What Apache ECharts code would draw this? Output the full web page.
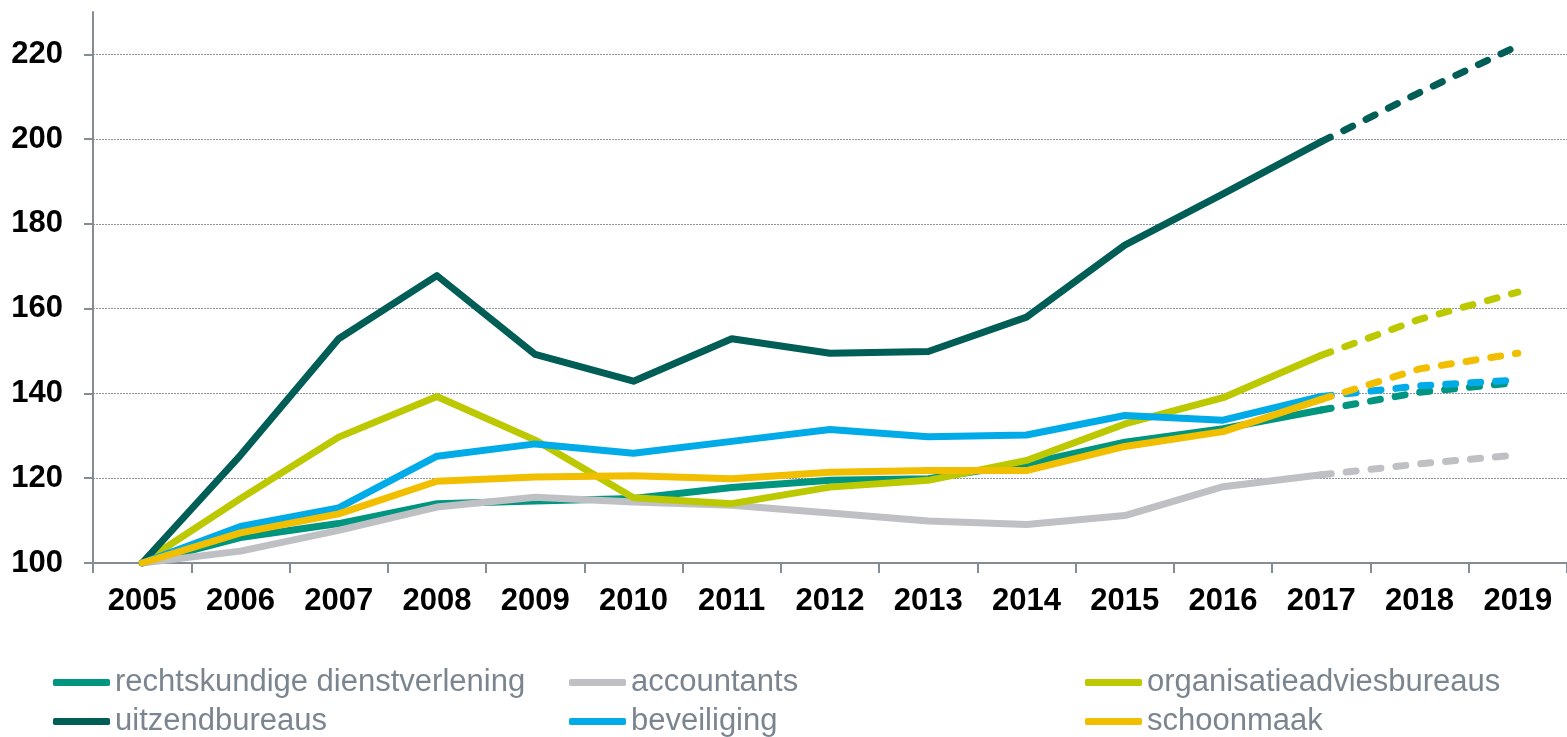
<!DOCTYPE html>
<html>
<head>
<meta charset="utf-8">
<script src="https://cdn.jsdelivr.net/npm/echarts@6/dist/echarts.min.js"></script>
<style>
  html, body { margin: 0; padding: 0; background: #fff; }
  #chart { width: 1567px; height: 737px; }
</style>
</head>
<body>
<div id="chart"></div>
<script>
const years = ['2005', '2006', '2007', '2008', '2009', '2010', '2011', '2012', '2013', '2014', '2015', '2016', '2017', '2018', '2019'];
const yTicks = [100, 120, 140, 160, 180, 200, 220];

// realised 2005-2017
const rechtskundig = [100, 106, 109.3, 114, 114.6, 115.2, 117.8, 119.5, 119.9, 123.4, 128.5, 131.7, 136.1];
const accountants = [100, 102.8, 107.7, 113.2, 115.5, 114.4, 113.6, 111.8, 109.9, 109.1, 111.2, 118, 120.8];
const organisatie = [100, 115.2, 129.7, 139.3, 129, 115.4, 114, 117.9, 119.5, 124.2, 132.8, 139, 149];
const uitzend = [100, 125.4, 152.9, 167.8, 149.2, 142.9, 152.9, 149.5, 149.9, 158, 175, 187.1, 199.4];
const beveiliging = [100, 108.6, 113, 125.2, 128.1, 125.9, 128.7, 131.5, 129.8, 130.2, 134.8, 133.7, 139.3];
const schoonmaak = [100, 107.1, 111.6, 119.3, 120.3, 120.6, 119.9, 121.4, 121.8, 121.8, 127.5, 131, 138.6];

// forecast 2017-2019
const rechtskundigProg = [136.1, 140.3, 142.6];
const accountantsProg = [120.8, 123.4, 125.5];
const organisatieProg = [149, 157.5, 163.9];
const uitzendProg = [199.4, 211, 222];
const beveiligingProg = [139.3, 141.8, 143.2];
const schoonmaakProg = [138.6, 145.8, 149.5];

const names = ['rechtskundige dienstverlening', 'accountants', 'organisatieadviesbureaus', 'uitzendbureaus', 'beveiliging', 'schoonmaak'];
const colors = ['#00957f', '#bec0c4', '#bcc800', '#005e56', '#00abe8', '#f2bf00'];
const solid = [rechtskundig, accountants, organisatie, uitzend, beveiliging, schoonmaak];
const prog = [rechtskundigProg, accountantsProg, organisatieProg, uitzendProg, beveiligingProg, schoonmaakProg];

const gray = '#848d96';
const labelFont = 'Liberation Sans, Arial, sans-serif';

const series = [];
names.forEach((name, i) => {
  series.push({
    name: name,
    type: 'line',
    data: solid[i],
    symbol: 'none',
    color: colors[i],
    lineStyle: { width: 7, color: colors[i], cap: 'round', join: 'round' },
    z: 2 + i,
  });
});
names.forEach((name, i) => {
  const pad = new Array(years.length - prog[i].length).fill(null);
  series.push({
    name: name,
    type: 'line',
    data: pad.concat(prog[i]),
    symbol: 'none',
    color: colors[i],
    lineStyle: { width: 7, color: colors[i], type: [10, 15], cap: 'round' },
    z: 2 + i,
  });
});

function legendCol(left, items) {
  return {
    orient: 'vertical',
    left: left,
    top: 667,
    data: items,
    icon: 'roundRect',
    itemWidth: 57,
    itemHeight: 7,
    itemGap: 8,
    padding: 0,
    selectedMode: false,
    textStyle: { fontFamily: labelFont, fontSize: 31, lineHeight: 31, color: '#7b8590', padding: [0, 0, 0, 0] },
  };
}

const chart = echarts.init(document.getElementById('chart'), null, { renderer: 'canvas' });
chart.setOption({
  animation: false,
  backgroundColor: '#fff',
  grid: { left: 93, top: 12, width: 1486, height: 551, containLabel: false },
  legend: [
    legendCol(53, [names[0], names[3]]),
    legendCol(569, [names[1], names[4]]),
    legendCol(1085, [names[2], names[5]]),
  ],
  xAxis: {
    type: 'category',
    data: years,
    boundaryGap: true,
    axisLine: { lineStyle: { color: gray, width: 2 } },
    axisTick: { show: true, length: 10, lineStyle: { color: gray, width: 2 } },
    axisLabel: { fontFamily: labelFont, fontSize: 31, fontWeight: 'bold', color: '#000', margin: 23 },
    splitLine: { show: false },
  },
  yAxis: {
    type: 'value',
    min: 100,
    max: 230,
    interval: 20,
    axisLine: { show: true, lineStyle: { color: gray, width: 2 } },
    axisTick: { show: true, length: 9, lineStyle: { color: gray, width: 2 } },
    axisLabel: {
      fontFamily: labelFont, fontSize: 31, fontWeight: 'bold', color: '#000', margin: 30,
      showMaxLabel: false,
      formatter: (v) => (yTicks.indexOf(v) >= 0 ? String(v) : ''),
    },
    splitLine: {
      show: true,
      lineStyle: { color: ['#8e949c', '#8e949c', '#8e949c', '#8e949c', '#8e949c', '#8e949c', '#8e949c', 'rgba(0,0,0,0)'], type: [2, 1], width: 1 },
    },
  },
  series: series,
});
</script>
</body>
</html>
